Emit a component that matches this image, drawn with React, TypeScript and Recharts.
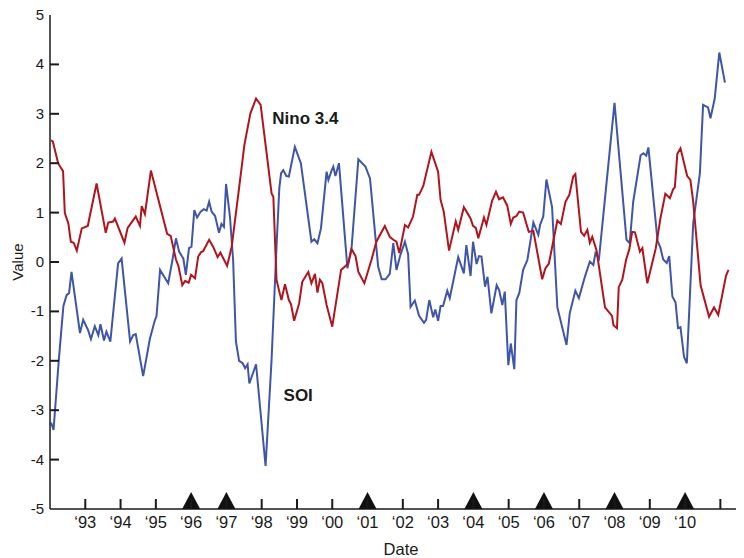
import React from 'react';
import { ComposedChart, Line, Scatter, XAxis, YAxis, ReferenceDot } from 'recharts';

const ninoYears = [
  1992.03, 1992.08, 1992.23, 1992.29, 1992.37, 1992.42, 1992.52, 1992.59, 1992.67, 1992.76, 1992.9,
  1993.07, 1993.32, 1993.58, 1993.65, 1993.79, 1993.84, 1994.11, 1994.2, 1994.43, 1994.55, 1994.6,
  1994.69, 1994.86, 1995.32, 1995.42, 1995.57, 1995.64, 1995.75, 1995.83, 1995.93, 1996.0, 1996.11,
  1996.2, 1996.28, 1996.34, 1996.51, 1996.63, 1996.75, 1996.83, 1997.02, 1997.15, 1997.34, 1997.51,
  1997.68, 1997.84, 1997.97, 1998.28, 1998.33, 1998.42, 1998.5, 1998.56, 1998.66, 1998.77, 1998.83,
  1998.92, 1999.06, 1999.15, 1999.32, 1999.41, 1999.51, 1999.58, 1999.65, 1999.72, 1999.84, 2000.0,
  2000.25, 2000.36, 2000.45, 2000.55, 2000.66, 2000.74, 2000.91, 2001.11, 2001.25, 2001.49, 2001.63,
  2001.73, 2001.82, 2001.9, 2002.06, 2002.15, 2002.29, 2002.41, 2002.46, 2002.58, 2002.81, 2003.0,
  2003.07, 2003.16, 2003.31, 2003.5, 2003.57, 2003.73, 2003.92, 2003.99, 2004.07, 2004.14, 2004.3,
  2004.37, 2004.53, 2004.64, 2004.73, 2004.84, 2004.96, 2005.06, 2005.13, 2005.22, 2005.3, 2005.41,
  2005.57, 2005.7, 2005.95, 2006.04, 2006.14, 2006.38, 2006.48, 2006.61, 2006.72, 2006.83, 2006.89,
  2007.05, 2007.14, 2007.23, 2007.3, 2007.37, 2007.49, 2007.73, 2007.93, 2007.97, 2008.07, 2008.12,
  2008.22, 2008.33, 2008.42, 2008.5, 2008.58, 2008.72, 2008.79, 2008.93, 2009.17, 2009.3, 2009.44,
  2009.57, 2009.66, 2009.71, 2009.78, 2009.87, 2010.06, 2010.15, 2010.23, 2010.44, 2010.68, 2010.82,
  2010.94, 2011.16, 2011.23,
];
const ninoValues = [
  2.46, 2.44, 2.0, 1.93, 1.84, 0.99, 0.78, 0.41, 0.39, 0.23, 0.68,
  0.73, 1.59, 0.59, 0.8, 0.82, 0.88, 0.39, 0.69, 0.92, 0.73, 1.13,
  0.97, 1.85, 0.57, 0.53, 0.05, -0.08, -0.47, -0.38, -0.42, -0.26, -0.33,
  0.11, 0.2, 0.22, 0.45, 0.3, 0.1, 0.19, -0.08, 0.31, 1.39, 2.37,
  3.01, 3.31, 3.18, 1.39, 1.32, -0.36, -0.6, -0.77, -0.45, -0.77, -0.85,
  -1.19, -0.84, -0.4, -0.2, -0.43, -0.24, -0.62, -0.36, -0.43, -0.87, -1.31,
  -0.16, -0.09, -0.03, 0.26, 0.12, -0.2, -0.43, 0.04, 0.41, 0.73, 0.51,
  0.45, 0.41, 0.18, 0.75, 0.7, 0.92, 1.36, 1.36, 1.54, 2.23, 1.83,
  1.26, 1.02, 0.23, 0.82, 0.65, 1.11, 0.88, 0.73, 0.69, 0.48, 0.9,
  0.75, 1.24, 1.42, 1.27, 1.31, 1.14, 0.77, 0.9, 0.93, 1.02, 1.0,
  0.61, 0.63, -0.35, -0.13, -0.03, 0.84, 0.77, 1.22, 1.36, 1.73, 1.78,
  0.61, 0.53, 0.65, 0.39, 0.51, 0.24, -0.92, -1.09, -1.28, -1.34, -0.51,
  -0.36, 0.05, 0.26, 0.61, 0.6, 0.21, 0.28, -0.43, 0.28, 0.88, 1.38,
  1.29, 1.47, 1.51, 2.19, 2.3, 1.74, 1.66, 1.22, -0.47, -1.11, -0.92,
  -1.07, -0.28, -0.16,
];

const soiYears = [
  1992.03, 1992.1, 1992.25, 1992.38, 1992.47, 1992.54, 1992.61, 1992.85, 1992.94, 1993.08, 1993.16,
  1993.27, 1993.37, 1993.43, 1993.53, 1993.6, 1993.71, 1993.93, 1994.03, 1994.27, 1994.36, 1994.43,
  1994.64, 1994.83, 1994.96, 1995.02, 1995.12, 1995.28, 1995.35, 1995.47, 1995.57, 1995.66, 1995.78,
  1995.85, 1995.94, 1996.01, 1996.09, 1996.17, 1996.27, 1996.36, 1996.44, 1996.51, 1996.58, 1996.68,
  1996.79, 1996.86, 1996.93, 1996.99, 1997.1, 1997.19, 1997.27, 1997.36, 1997.46, 1997.53, 1997.6,
  1997.65, 1997.84, 1998.11, 1998.28, 1998.42, 1998.5, 1998.55, 1998.61, 1998.7, 1998.77, 1998.94,
  1999.11, 1999.41, 1999.49, 1999.58, 1999.68, 1999.84, 1999.89, 1999.98, 2000.03, 2000.09, 2000.19,
  2000.43, 2000.55, 2000.74, 2000.94, 2001.07, 2001.3, 2001.4, 2001.51, 2001.63, 2001.73, 2001.82,
  2001.93, 2002.06, 2002.15, 2002.22, 2002.34, 2002.46, 2002.6, 2002.66, 2002.75, 2002.86, 2002.92,
  2003.0, 2003.07, 2003.14, 2003.26, 2003.33, 2003.57, 2003.73, 2003.8, 2003.92, 2003.99, 2004.09,
  2004.16, 2004.23, 2004.33, 2004.4, 2004.51, 2004.66, 2004.73, 2004.82, 2004.89, 2004.99, 2005.06,
  2005.16, 2005.22, 2005.3, 2005.41, 2005.53, 2005.7, 2005.84, 2005.89, 2005.98, 2006.07, 2006.23,
  2006.38, 2006.64, 2006.73, 2006.89, 2006.99, 2007.16, 2007.3, 2007.4, 2007.46, 2007.56, 2008.0,
  2008.34, 2008.43, 2008.53, 2008.74, 2008.82, 2008.9, 2008.96, 2009.22, 2009.3, 2009.38, 2009.48,
  2009.55, 2009.64, 2009.73, 2009.8, 2009.87, 2009.97, 2010.05, 2010.23, 2010.42, 2010.51, 2010.65,
  2010.72, 2010.84, 2010.97, 2011.13,
];
const soiValues = [
  -3.25, -3.4, -1.98, -0.89, -0.67, -0.63, -0.2, -1.44, -1.17, -1.38, -1.56,
  -1.3, -1.48, -1.26, -1.59, -1.41, -1.61, -0.03, 0.07, -1.61, -1.48, -1.46,
  -2.31, -1.56, -1.21, -1.09, -0.16, -0.35, -0.43, 0.04, 0.48, 0.21, 0.07,
  -0.26, 0.28, 0.31, 1.05, 0.9, 1.02, 1.07, 1.04, 1.22, 1.02, 0.93,
  0.59, 0.77, 0.71, 1.58, 0.92, 0.04, -1.61, -2.0, -2.05, -2.15, -2.07,
  -2.46, -2.07, -4.13, -1.98, 0.31, 1.5, 1.8, 1.86, 1.74, 1.73, 2.33,
  2.0, 0.41, 0.46, 0.38, 0.68, 1.83, 1.66, 1.85, 1.93, 1.74, 2.0,
  -0.13, 0.31, 2.08, 1.93, 1.69, -0.09, -0.35, -0.35, -0.24, 0.38, -0.16,
  0.14, 0.41, 0.16, -0.91, -0.78, -1.09, -1.23, -1.17, -0.77, -1.12, -0.96,
  -1.19, -0.89, -0.89, -0.58, -0.73, 0.1, -0.23, 0.34, -0.28, 0.41, -0.04,
  0.12, 0.11, -0.5, -0.3, -1.04, -0.47, -0.57, -0.87, -0.6, -2.09, -1.65,
  -2.17, -0.77, -0.63, -0.16, 0.04, 0.8, 0.55, 0.75, 0.92, 1.67, 1.11,
  -0.92, -1.68, -1.04, -0.58, -0.73, -0.3, 0.01, -0.06, 0.18, 0.07, 3.22,
  0.45, 0.38, 1.22, 2.16, 2.2, 2.15, 2.32, 0.43, 0.29, 0.05, -0.02,
  0.12, -0.7, -0.82, -1.34, -1.32, -1.92, -2.05, 0.78, 1.8, 3.18, 3.13,
  2.91, 3.31, 4.24, 3.63,
];

const eventYears = [1996, 1997, 2001, 2004, 2006, 2008, 2010];
const xTickYears = [1993, 1994, 1995, 1996, 1997, 1998, 1999, 2000, 2001, 2002, 2003, 2004, 2005, 2006, 2007, 2008, 2009, 2010, 2011];
const xTickLabels = ['\u201893', '\u201894', '\u201895', '\u201896', '\u201897', '\u201898', '\u201899', '\u201800', '\u201801', '\u201802', '\u201803', '\u201804', '\u201805', '\u201806', '\u201807', '\u201808', '\u201809', '\u201810', ''];
const yTicks = [-5, -4, -3, -2, -1, 0, 1, 2, 3, 4, 5];

const ninoData = ninoYears.map((t, i) => ({ t, v: ninoValues[i] }));
const soiData = soiYears.map((t, i) => ({ t, v: soiValues[i] }));
const eventData = eventYears.map((t) => ({ t, v: -5 }));

const FONT = '"Liberation Sans", Arial, Helvetica, sans-serif';
const INK = '#1a1a1a';
const RED = '#B0141D';
const BLUE = '#3F55A8';

const BottomTick = (props: any) => {
  const { x, y, payload } = props;
  const idx = xTickYears.indexOf(payload.value);
  const label = idx >= 0 ? xTickLabels[idx] : '';
  return (
    <g>
      <line x1={x} x2={x} y1={y} y2={y - 10} stroke={INK} strokeWidth={2} />
      <text x={x} y={y + 19} textAnchor="middle" fontFamily={FONT} fontSize={16.5} fill={INK}>
        {label}
      </text>
    </g>
  );
};

const TopTick = (props: any) => {
  const { x, y } = props;
  return <line x1={x} x2={x} y1={y} y2={y + 10} stroke={INK} strokeWidth={2} />;
};

const LeftTick = (props: any) => {
  const { x, y, payload } = props;
  const v = payload.value;
  return (
    <g>
      {v > -5 && v < 5 ? <line x1={x} x2={x + 9} y1={y} y2={y} stroke={INK} strokeWidth={2} /> : null}
      <text x={x - 6} y={y} dy={5} textAnchor="end" fontFamily={FONT} fontSize={15} fill={INK}>
        {v}
      </text>
    </g>
  );
};

const Triangle = (props: any) => {
  const { cx, cy } = props;
  if (cx == null || cy == null) return null;
  return <polygon points={`${cx - 9},${cy} ${cx + 9},${cy} ${cx},${cy - 17}`} fill="#111" />;
};

export default function App() {
  return (
    <div style={{ width: 736, height: 550, fontFamily: FONT }}>
      <ComposedChart width={736} height={550} margin={{ top: 7, right: 0, bottom: 0, left: 0 }} style={{ overflow: 'visible' }}>
        <XAxis
          xAxisId="bottom"
          dataKey="t"
          type="number"
          domain={[1992, 2011.67]}
          allowDataOverflow
          ticks={xTickYears}
          interval={0}
          tickSize={0}
          tickMargin={0}
          height={49}
          tick={<BottomTick />}
          axisLine={{ stroke: INK, strokeWidth: 1.5 }}
          tickLine={false}
          label={{ value: 'Date', position: 'insideBottom', offset: 3, dx: 4, fontSize: 16.5, fill: INK, fontFamily: FONT }}
        />
        <XAxis
          xAxisId="top"
          orientation="top"
          dataKey="t"
          type="number"
          domain={[1992, 2011.67]}
          allowDataOverflow
          ticks={xTickYears}
          interval={0}
          tickSize={0}
          tickMargin={0}
          height={0}
          tick={<TopTick />}
          axisLine={{ stroke: INK, strokeWidth: 1.5 }}
          tickLine={false}
        />
        <YAxis
          type="number"
          domain={[-5, 5]}
          ticks={yTicks}
          interval={0}
          width={42}
          tickSize={0}
          tickMargin={0}
          tick={<LeftTick />}
          axisLine={{ stroke: INK, strokeWidth: 1.5 }}
          tickLine={false}
          label={{ value: 'Value', angle: -90, position: 'center', dx: -11, fontSize: 15, fill: INK, fontFamily: FONT }}
        />
        <Line xAxisId="bottom" data={soiData} dataKey="v" type="linear" stroke={BLUE} strokeWidth={2} dot={false} isAnimationActive={false} />
        <Line xAxisId="bottom" data={ninoData} dataKey="v" type="linear" stroke={RED} strokeWidth={2} dot={false} isAnimationActive={false} />
        <Scatter xAxisId="bottom" data={eventData} dataKey="v" shape={<Triangle />} isAnimationActive={false} />
        <ReferenceDot
          xAxisId="bottom"
          x={1998.3}
          y={2.92}
          r={0}
          fill="none"
          stroke="none"
          label={{ value: 'Nino 3.4', position: 'right', offset: 0, fontSize: 17, fontWeight: 'bold', fill: INK, fontFamily: FONT }}
        />
        <ReferenceDot
          xAxisId="bottom"
          x={1998.62}
          y={-2.7}
          r={0}
          fill="none"
          stroke="none"
          label={{ value: 'SOI', position: 'right', offset: 0, fontSize: 17, fontWeight: 'bold', fill: INK, fontFamily: FONT }}
        />
      </ComposedChart>
    </div>
  );
}
